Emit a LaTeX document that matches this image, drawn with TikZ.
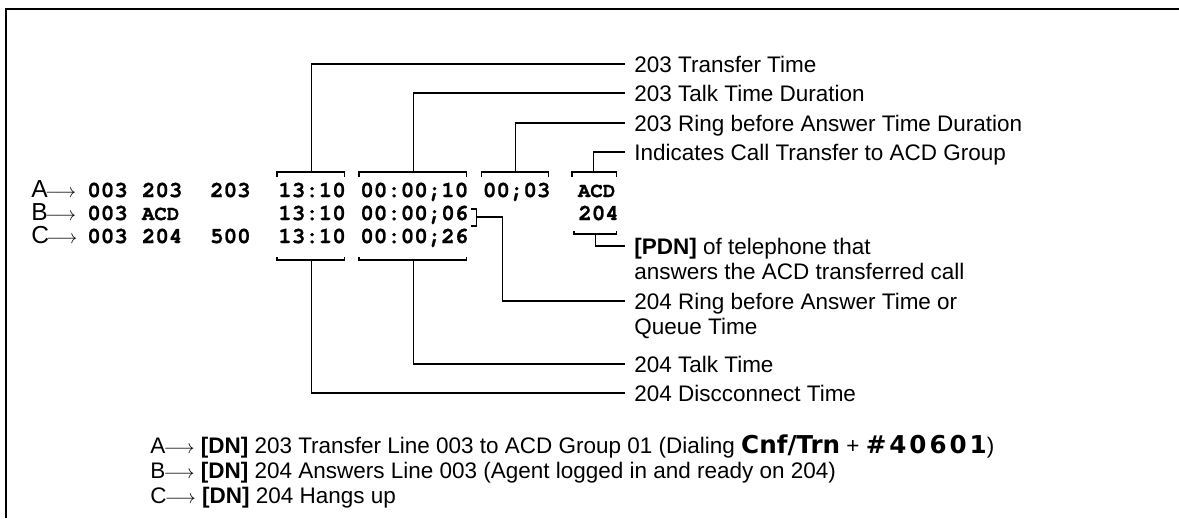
\documentclass[tikz,border=0pt]{standalone}
\usepackage{fontspec}
\setmainfont{Liberation Sans}
\newfontfamily\codefont{texgyrecursor}[Extension=.otf, UprightFont=*-regular, BoldFont=*-bold, BoldFeatures={FakeBold=1}]
\newfontfamily\keyfont{DejaVu Sans}
\newcommand{\rowarrow}{{\fontsize{11}{12}\selectfont$\longrightarrow$}}
\usetikzlibrary{positioning, calc}

\begin{document}
\begin{tikzpicture}[
    x=0.02cm, y=-0.02cm,
    fld/.style={inner sep=0pt, anchor=base west, font=\codefont\bfseries\fontsize{12.8}{14}\selectfont},
    acd/.style={fld, text width=0.81cm, align=center, font=\codefont\bfseries\fontsize{11.8}{13}\selectfont},
    tag/.style={inner sep=0pt, anchor=base west, font=\fontsize{12.8}{14}\selectfont},
    rowtag/.style={tag, font=\fontsize{14}{16}\selectfont},
    lbl/.style={anchor=west, inner xsep=0.18cm, inner ysep=0pt, text height=9.2pt, text depth=0pt, font=\fontsize{12.8}{14}\selectfont},
    brk/.style={line width=0.6pt},
    lead/.style={line width=0.6pt},
    frame/.style={line width=1.2pt}
]
\useasboundingbox (0,0) rectangle (1179,518);

% --- Frame ---
\draw[frame] (6,518) -- (6,9) -- (1179,9);

% --- Call records ---
\node[rowtag] (tagA) at (31,197) {A\kern-1.5pt\rowarrow};
\node[fld] (aOrg) at (87,197) {003};
\node[fld] (aSrc) at (141.6,197) {203};
\node[fld] (aDst) at (209.8,197) {203};
\node[fld] (aTime) at (278,197) {13:10};
\node[fld] (aTalk) at (360,197) {00:00;10};
\node[fld] (aRing) at (482.6,197) {00;03};
\node[acd] (aAcd) at (576,197) {ACD};

\node[rowtag] (tagB) at (31,220) {B\kern-1.5pt\rowarrow};
\node[fld] (bOrg) at (87,220) {003};
\node[acd] (bAcd) at (140,220) {ACD};
\node[fld] (bTime) at (278,220) {13:10};
\node[fld] (bTalk) at (360,220) {00:00;06};
\node[fld] (bPdn) at (578,220) {204};

\node[rowtag] (tagC) at (31,243) {C\kern-1.5pt\rowarrow};
\node[fld] (cOrg) at (87,243) {003};
\node[fld] (cSrc) at (141.6,243) {204};
\node[fld] (cDst) at (209.8,243) {500};
\node[fld] (cTime) at (278,243) {13:10};
\node[fld] (cTalk) at (360,243) {00:00;26};

% --- Labels ---
\node[lbl] (lTransfer) at (625,64) {203 Transfer Time};
\node[lbl] (lTalkA) at (625,93) {203 Talk Time Duration};
\node[lbl] (lRingA) at (625,123) {203 Ring before Answer Time Duration};
\node[lbl] (lAcd) at (625,152) {Indicates Call Transfer to ACD Group};
\node[lbl] (lPdn) at (625,246) {\textbf{[PDN]} of telephone that};
\node[lbl] (lPdn2) at ($(lPdn.west)+(0,25)$) {answers the ACD transferred call};
\node[lbl] (lRingB) at (625,301) {204 Ring before Answer Time or};
\node[lbl] (lRingB2) at ($(lRingB.west)+(0,25)$) {Queue Time};
\node[lbl] (lTalkC) at (625,364) {204 Talk Time};
\node[lbl] (lDisc) at (625,393) {204 Discconnect Time};

% Brackets
\foreach \f in {aTime,aTalk,aRing}
    \draw[brk] ($(\f.base west)+(-1,-20)$) -- ++(0,-5) -| ($(\f.base east)+(-2,-20)$);
\draw[brk] ($(aAcd.base west)+(-4,-20)$) -- ++(0,-5) -| ($(aAcd.base east)+(-1,-20)$);
\draw[brk] ($(bPdn.base west)+(-4,11)$) -- ++(0,3) -| ($(bPdn.base east)+(-3,11)$);
\draw[brk] ($(bTalk.base east)+(2,-11)$) -- ++(6,0) -- ++(0,17) -- ++(-6,0);
\foreach \f in {cTime,cTalk}
    \draw[brk] ($(\f.base west)+(-1,14)$) -- ++(0,3) -| ($(\f.base east)+(-2,14)$);

% Leaders
\draw[lead] ($(aTime.base)+(-1,-25)$) |- (lTransfer.west);
\draw[lead] ($(aTalk.base)+(-1,-25)$) |- (lTalkA.west);
\draw[lead] ($(aRing.base)+(-1,-25)$) |- (lRingA.west);
\draw[lead] ($(aAcd.base)+(-3,-25)$) |- (lAcd.west);
\draw[lead] ($(bPdn.base)+(-3,14)$) |- (lPdn.west);
\draw[lead] ($(bTalk.base east)+(8,-3)$) -- ++(26,0) |- (lRingB.west);
\draw[lead] ($(cTalk.base)+(-1,17)$) |- (lTalkC.west);
\draw[lead] ($(cTime.base)+(-1,17)$) |- (lDisc.west);

% --- Notes ---
\node[tag] (nA) at (150,453) {A\kern-1pt\rowarrow\ \textbf{[DN]} 203 Transfer Line 003 to ACD Group 01 (Dialing {\keyfont\bfseries\fontsize{14}{16}\selectfont Cnf/Trn} + {\keyfont\bfseries\fontsize{14}{16}\selectfont\addfontfeatures{LetterSpace=12}\#40601})};
\node[tag] (nB) at (150,478) {B\kern-1pt\rowarrow\ \textbf{[DN]} 204 Answers Line 003 (Agent logged in and ready on 204)};
\node[tag] (nC) at (150,503) {C\kern-1pt\rowarrow\ \textbf{[DN]} 204 Hangs up};

\end{tikzpicture}
\end{document}
